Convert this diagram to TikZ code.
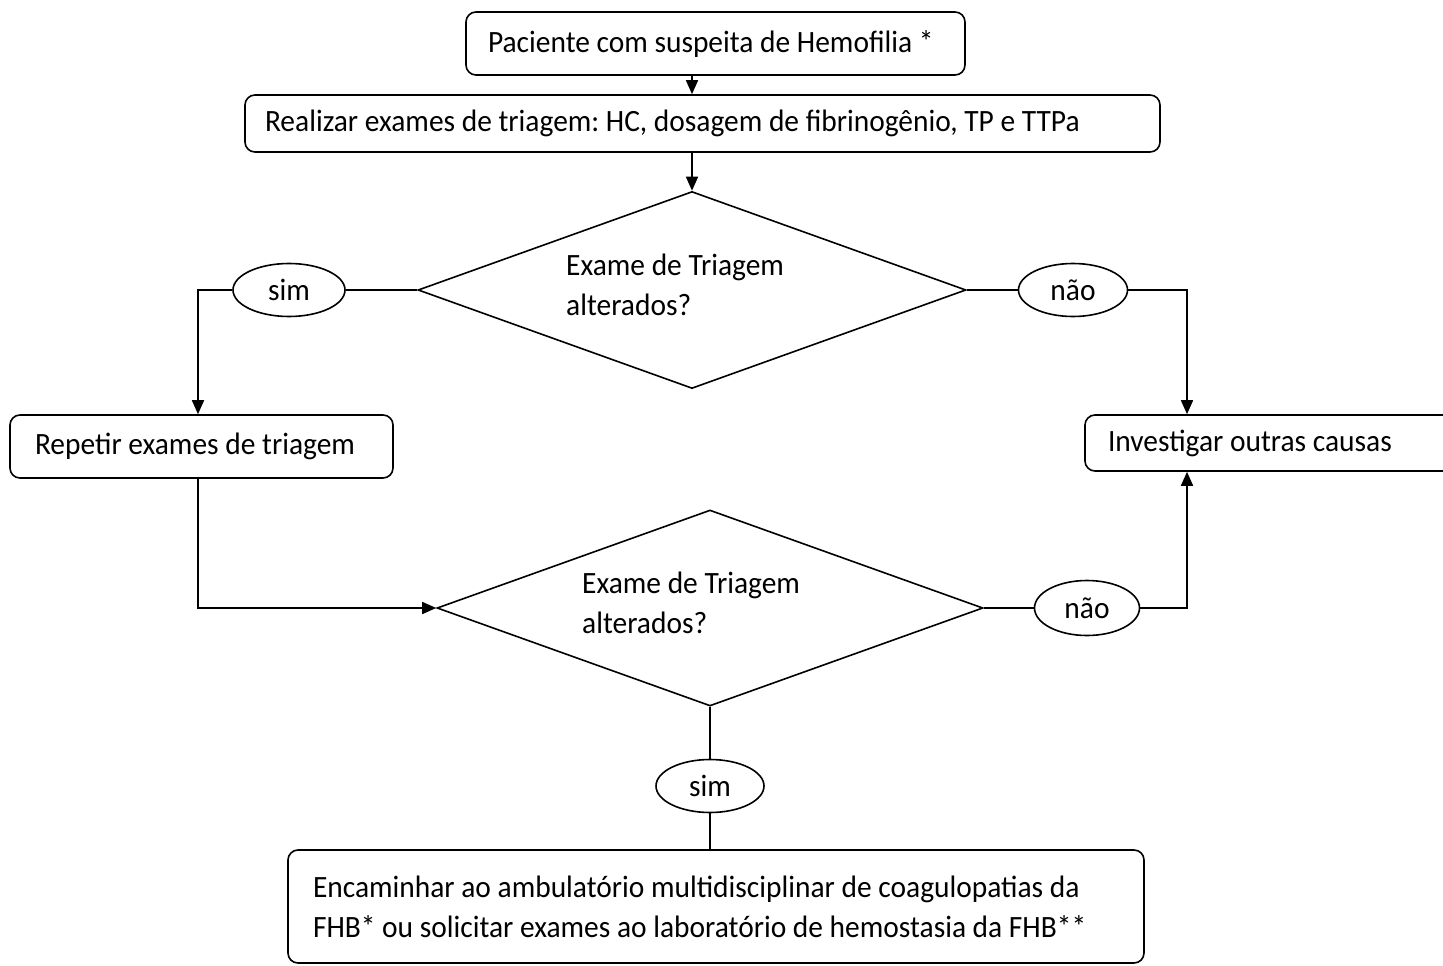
\documentclass[tikz,border=0pt]{standalone}
\usepackage{fontspec}
\setmainfont{Carlito}[FakeStretch=0.95]
\frenchspacing
\usetikzlibrary{shapes.geometric,arrows.meta}
\begin{document}
\begin{tikzpicture}[x=1pt,y=-1pt,
  ln/.style={line width=1.6pt},
  arr/.style={line width=1.6pt,-{Triangle[length=14pt,width=12pt]}},
  txt/.style={font=\fontsize{31}{40}\selectfont},
  box/.style={draw,line width=1.6pt,rounded corners=10pt,inner sep=0pt,align=flush left,txt},
  dia/.style={draw,diamond,line width=1.6pt,inner sep=0pt},
  oval/.style={draw,ellipse,line width=1.6pt,inner sep=0pt,txt}]
\useasboundingbox (0,0) rectangle (1443,966);
\node[box,minimum width=499,minimum height=63,text width=455] (b1) at (715.5,43.5) {Paciente com suspeita de Hemofilia *};
\node[box,minimum width=915,minimum height=57,text width=875] (b2) at (702.5,123.5) {Realizar exames de triagem: HC, dosagem de fibrinogênio, TP e TTPa};
\node[dia,minimum width=548,minimum height=197] (d1) at (692,290) {};
\node[txt,anchor=west,align=flush left,inner sep=0pt] (t1) at (566,285) {Exame de Triagem\\alterados?};
\node[oval,minimum width=112,minimum height=53] (e1) at (289,290) {sim};
\node[oval,minimum width=109,minimum height=53] (e2) at (1073,290) {não};
\node[box,minimum width=383,minimum height=63,text width=333] (rep) at (201.5,446.5) {Repetir exames de triagem};
\node[box,minimum width=375,minimum height=56,text width=329] (inv) at (1272.5,443) {Investigar outras causas};
\node[dia,minimum width=546,minimum height=196] (d2) at (710,608) {};
\node[txt,anchor=west,align=flush left,inner sep=0pt] (t2) at (582,603) {Exame de Triagem\\alterados?};
\node[oval,minimum width=105,minimum height=55] (e3) at (1087,608) {não};
\node[oval,minimum width=108,minimum height=53] (e4) at (710,786) {sim};
\node[box,minimum width=856,minimum height=113,text width=806] (fin) at (716,906.5) {Encaminhar ao ambulatório multidisciplinar de coagulopatias da\\FHB* ou solicitar exames ao laboratório de hemostasia da FHB**};
\draw[arr] (b1.south -| d1.north) -- (b2.north -| d1.north);
\draw[arr] (b2.south -| d1.north) -- (d1.north);
\draw[ln] (d1.west) -- (e1.east);
\draw[arr] (e1.west) -| ([xshift=-3.5]rep.north);
\draw[ln] (d1.east) -- (e2.west);
\draw[arr] (e2.east) -| ([xshift=-85.5]inv.north);
\draw[arr] ([xshift=-3.5]rep.south) |- (d2.west);
\draw[ln] (d2.east) -- (e3.west);
\draw[arr] (e3.east) -| ([xshift=-85.5]inv.south);
\draw[ln] (d2.south) -- (e4.north);
\draw[ln] (e4.south) -- (fin.north -| e4.south);
\end{tikzpicture}
\end{document}
